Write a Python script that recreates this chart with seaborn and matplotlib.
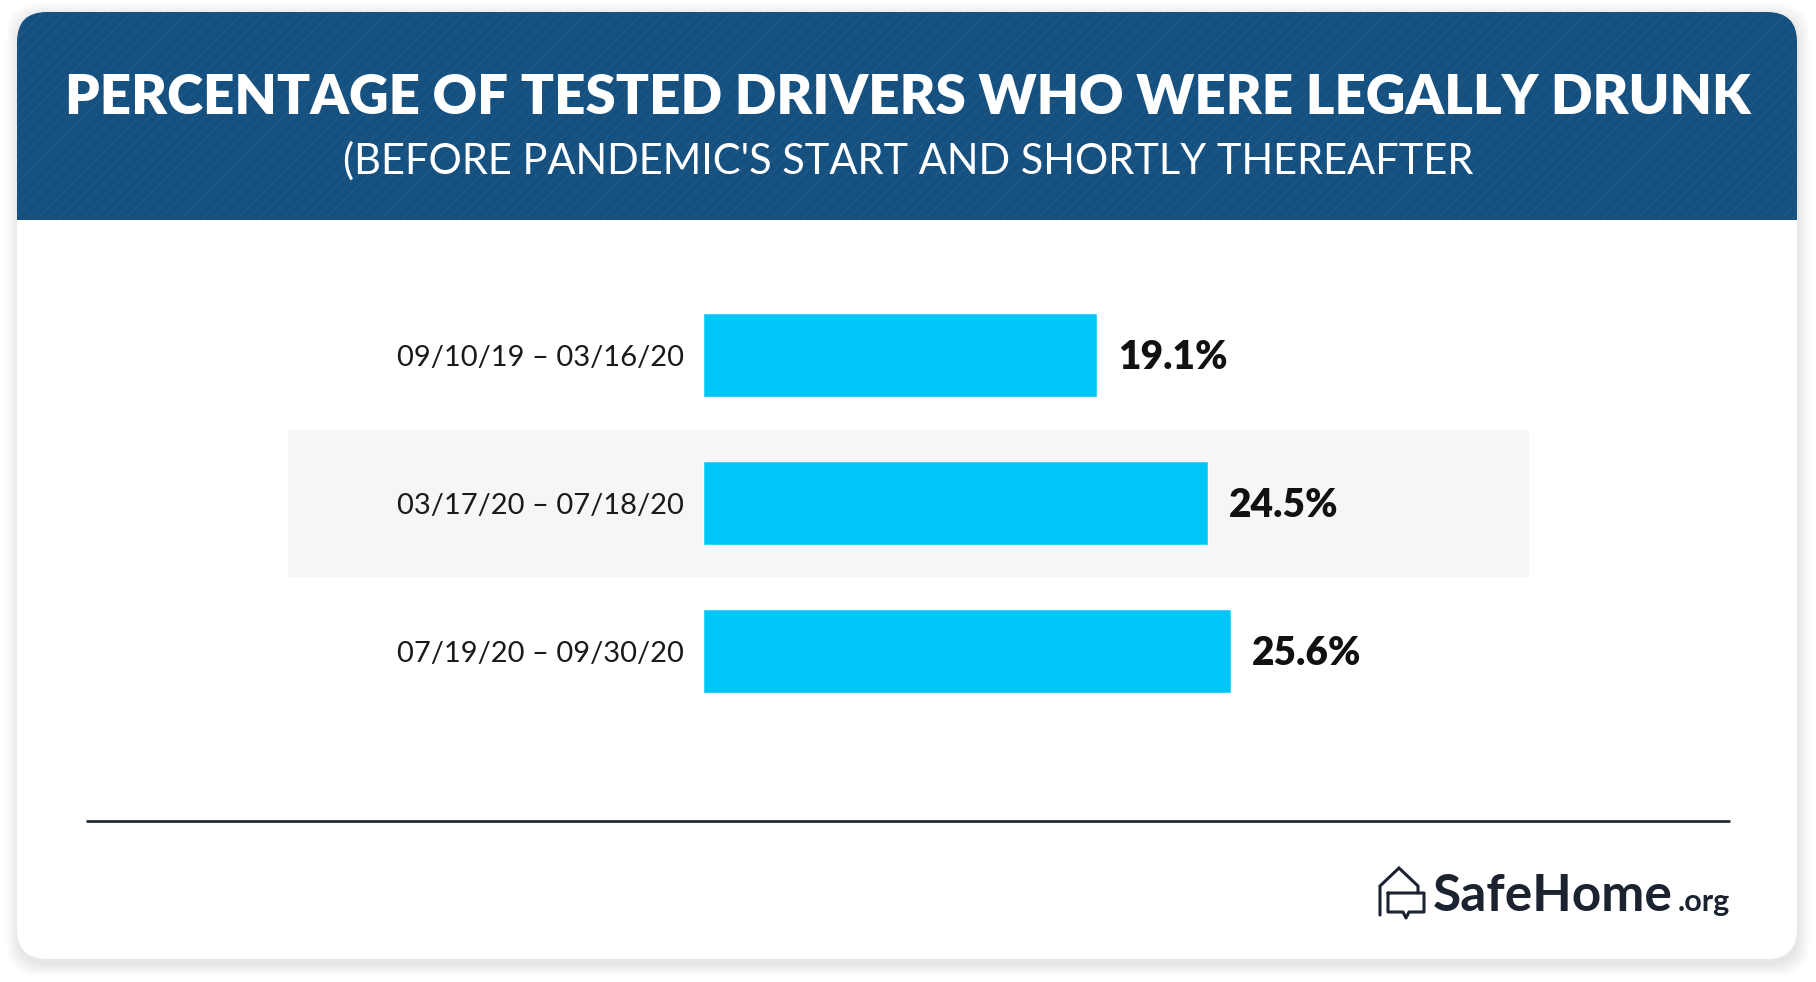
import matplotlib
matplotlib.use("Agg")
import matplotlib.pyplot as plt
from matplotlib.patches import FancyBboxPatch, Rectangle
import seaborn as sns

# chart data
periods = ["09/10/19 – 03/16/20", "03/17/20 – 07/18/20", "07/19/20 – 09/30/20"]
shares = [19.1, 24.5, 25.6]
title = "PERCENTAGE OF TESTED DRIVERS WHO WERE LEGALLY DRUNK"
subtitle = "(BEFORE PANDEMIC'S START AND SHORTLY THEREAFTER"

navy = "#16507f"
stripe = "#1d5a8c"
cyan = "#00c6f8"
ink = "#1b2230"

sns.set_style("white")
plt.rcParams["font.family"] = ["Lato", "DejaVu Sans"]
plt.rcParams["hatch.linewidth"] = 0.8

W, H = 1816, 982
fig = plt.figure(figsize=(W / 100, H / 100), dpi=100)
fig.patch.set_facecolor("white")

# background layer in pixel coordinates
bg = fig.add_axes([0, 0, 1, 1])
bg.set_xlim(0, W)
bg.set_ylim(H, 0)
bg.axis("off")

# soft shadow round the card
for i in range(8):
    g = 2 + i * 1.5
    bg.add_patch(FancyBboxPatch((17 - g + 2, 12 - g + 4), 1780 + 2 * g - 2, 947 + 2 * g,
                                boxstyle="round,pad=0,rounding_size=32",
                                fc="#000000", ec="none", alpha=0.012))
bg.add_patch(FancyBboxPatch((17, 12), 1780, 947, boxstyle="round,pad=0,rounding_size=30",
                            fc="white", ec="none"))

# striped header band
bg.add_patch(FancyBboxPatch((17, 12), 1780, 208, boxstyle="round,pad=0,rounding_size=30",
                            fc=navy, ec=stripe, lw=0, hatch="///"))
bg.add_patch(Rectangle((17, 150), 1780, 70, fc=navy, ec=stripe, lw=0, hatch="///"))

bg.text(908, 98, title, ha="center", va="center", color="white",
        fontsize=39.3, fontweight="heavy")
bg.text(908, 161, subtitle, ha="center", va="center", color="white",
        fontsize=30, fontweight="normal")

# separator line and logo
bg.plot([86, 1730], [821, 821], color=ink, lw=1.9, solid_capstyle="butt")
bg.plot([1380, 1380, 1399, 1418, 1418], [915, 886, 868, 886, 893],
        color=ink, lw=2.2, solid_joinstyle="miter")
bg.plot([1388, 1388, 1403, 1406, 1409, 1424, 1424, 1388],
        [893, 912, 912, 918, 912, 912, 893, 893], color=ink, lw=2.2)
bg.text(1433, 911, "SafeHome", ha="left", va="baseline", color=ink,
        fontsize=37, fontweight="bold")
bg.text(1730, 911, ".org", ha="right", va="baseline", color=ink,
        fontsize=22, fontweight="bold")

# bar chart
ax = fig.add_axes([703 / W, 1 - 725 / H, 825 / W, 444 / H])
ax.patch.set_alpha(0)
sns.barplot(x=shares, y=periods, orient="h", color=cyan, saturation=1,
            width=0.57, ax=ax, zorder=2)
ax.set_xlim(0, 40)
ax.set_ylim(2.5, -0.5)
ax.axhspan(0.51, 1.49, xmin=(288 - 703) / 825, xmax=1.0, color="#f6f6f6",
           zorder=0, clip_on=False)
labels = ax.bar_label(ax.containers[0], labels=[f"{v}%" for v in shares], padding=15,
                      fontsize=28, fontweight="heavy", color="#111111")
for t in labels:
    t.xyann = (15, -2)
ax.set_xticks([])
ax.tick_params(axis="y", length=0, pad=14, labelsize=21, labelcolor="#1a1a1a")
for s in ax.spines.values():
    s.set_visible(False)
ax.set_xlabel("")
ax.set_ylabel("")

fig.savefig("out.png", dpi=100)
